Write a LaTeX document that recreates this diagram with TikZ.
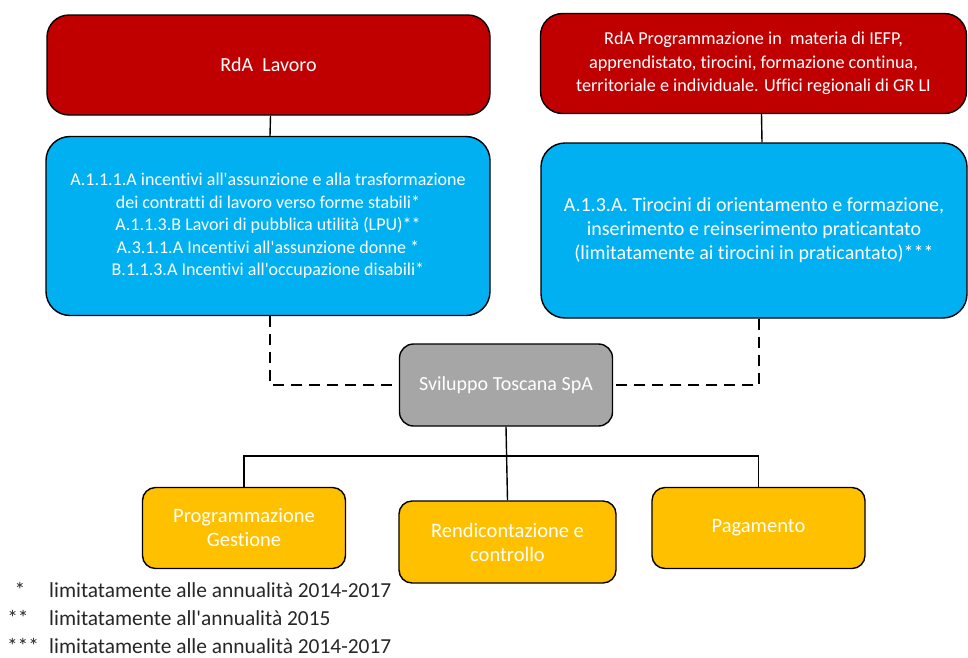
\documentclass[tikz,border=0pt]{standalone}
\usepackage{fontspec}
\setmainfont{Carlito}[Ligatures={NoCommon,NoContextual}]
\usetikzlibrary{positioning}
\definecolor{rdared}{HTML}{C00000}
\definecolor{azblue}{HTML}{00B0F0}
\definecolor{stgray}{HTML}{A6A6A6}
\definecolor{fnyellow}{HTML}{FFC000}
\newcommand{\apo}{\textquotesingle}
\begin{document}
\begin{tikzpicture}[x=1pt, y=-1pt,
    box/.style = {draw, line width=1.4pt, text=white, align=center, inner sep=2pt},
    rda/.style = {box, fill=rdared, rounded corners=22pt},
    azione/.style = {box, fill=azblue, rounded corners=24pt},
    ente/.style = {box, fill=stgray, rounded corners=14pt, minimum width=213pt, minimum height=82pt},
    fase/.style = {box, fill=fnyellow, rounded corners=13pt, minimum height=81pt},
    link/.style = {line width=1.4pt},
    dlink/.style = {line width=1.6pt, dash pattern=on 11pt off 7pt},
    nota/.style = {text=black!85, inner sep=0pt, font=\fontsize{21.4}{28}\selectfont}]
    \useasboundingbox (0,0) rectangle (968,657);

    \node[rda, minimum width=443pt, minimum height=100pt, font=\fontsize{20}{24}\selectfont] (rda1) at (268.5, 65) {RdA\ \ Lavoro};
    \node[rda, minimum width=426pt, minimum height=100pt, font=\fontsize{18.2}{23.3}\selectfont] (rda2) at (753.5, 63.5)
        {RdA Programmazione in\ \ materia di IEFP,\\ apprendistato, tirocini, formazione continua,\\ territoriale e individuale. Uffici regionali di GR LI};

    \node[azione, minimum width=444pt, minimum height=179pt, font=\fontsize{18}{22.5}\selectfont] (az1) at (268, 226)
        {A.1.1.1.A\ incentivi all\apo assunzione e alla trasformazione\\ dei contratti\ di lavoro verso forme stabili*\\
         A.1.1.3.B Lavori di pubblica utilità (LPU)**\\ A.3.1.1.A\ Incentivi all\apo assunzione donne *\\
         B.1.1.3.A\ Incentivi all\apo occupazione disabili*};
    \node[azione, minimum width=426pt, minimum height=175pt, font=\fontsize{20}{24}\selectfont] (az2) at (754, 230.5)
        {A.1.3.A. Tirocini di orientamento e formazione,\\ inserimento e reinserimento praticantato\\ (limitatamente ai tirocini in praticantato)***};

    \node[ente, font=\fontsize{20}{24}\selectfont] (st) at (506, 385) {Sviluppo Toscana SpA};

    \node[fase, minimum width=203pt, font=\fontsize{20.5}{24}\selectfont] (prog) at (244, 528) {Programmazione\\ Gestione};
    \node[fase, minimum width=217pt, minimum height=82pt, font=\fontsize{20.5}{24}\selectfont] (rend) at (507.5, 542) {Rendicontazione e\\ controllo};
    \node[fase, minimum width=213pt, font=\fontsize{20.5}{24}\selectfont] (pag) at (758.5, 528) {Pagamento};

    \draw [link] ([xshift=2pt]rda1.south) -- ([xshift=2pt]az1.north);
    \draw [link] ([xshift=8pt]rda2.south) -- ([xshift=8pt]az2.north);

    \draw [dlink] ([xshift=2pt]az1.south) |- (st.west);
    \draw [dlink] ([xshift=5pt]az2.south) |- (st.east);

    \draw [link] (st.south) -- (rend.north);
    \draw [link] (prog.north) -- ++(0,-31) -| (pag.north);

    \node[nota, anchor=base] (s1) at (20, 597) {*};
    \node[nota, anchor=base] (s2) at (18, 625) {**};
    \node[nota, anchor=base] (s3) at (23, 653) {***};
    \node[nota, anchor=base west] (n1) at (49, 597) {limitatamente alle annualità 2014-2017};
    \node[nota, anchor=base west] (n2) at (49, 625) {limitatamente all\apo annualità 2015};
    \node[nota, anchor=base west] (n3) at (49, 653) {limitatamente alle annualità 2014-2017};
\end{tikzpicture}
\end{document}
